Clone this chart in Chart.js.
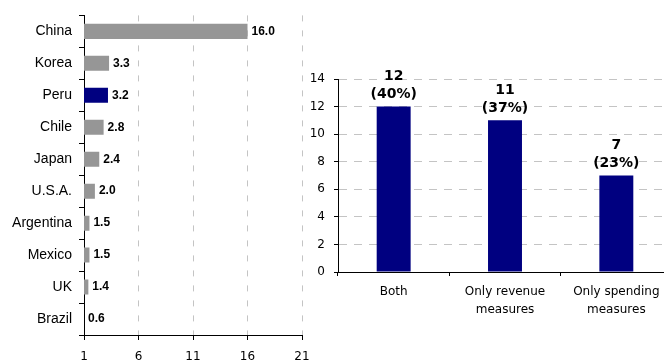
<!DOCTYPE html>
<html>
<head>
<meta charset="utf-8">
<script src="https://cdn.jsdelivr.net/npm/chart.js@4.4.1/dist/chart.umd.min.js"></script>
<style>
    html, body { margin: 0; padding: 0; background: #fff; overflow: hidden; }
    body { width: 664px; height: 363px; position: relative; }
    #leftWrap { position: absolute; left: 0; top: 0; width: 320px; height: 363px; }
    #rightWrap { position: absolute; left: 290px; top: 50px; width: 390px; height: 280px; }
</style>
</head>
<body>
<div id="leftWrap"><canvas id="leftChart"></canvas></div>
<div id="rightWrap"><canvas id="rightChart"></canvas></div>
<script>
// Left chart data
var countries = ['China', 'Korea', 'Peru', 'Chile', 'Japan', 'U.S.A.', 'Argentina', 'Mexico', 'UK', 'Brazil'];
var countryValues = [16.0, 3.3, 3.2, 2.8, 2.4, 2.0, 1.5, 1.5, 1.4, 0.6];
var countryTicks = [1, 6, 11, 16, 21];
var highlightCountry = 'Peru';

// Right chart data
var measureLabels = [['Both'], ['Only revenue', 'measures'], ['Only spending', 'measures']];
var measureCounts = [12, 11, 7];
var measureShares = [40, 37, 23];
var measureTicks = [0, 2, 4, 6, 8, 10, 12, 14];

Chart.defaults.font.family = 'DejaVu Sans';
Chart.defaults.color = '#000';
Chart.defaults.animation = false;

var gray = '#969696';
var navy = '#000080';

// draws value labels next to / above the bars
var valueLabels = {
    id: 'valueLabels',
    afterDatasetsDraw: function (chart, args, opts) {
        var ctx = chart.ctx;
        var meta = chart.getDatasetMeta(0);
        ctx.save();
        ctx.fillStyle = '#000';
        meta.data.forEach(function (bar, i) {
            if (opts.mode === 'right') {
                ctx.font = 'bold 12px "Liberation Sans"';
                ctx.textAlign = 'left';
                ctx.textBaseline = 'middle';
                var x = Math.max(bar.x, chart.chartArea.left) + 4;
                ctx.fillText(countryValues[i].toFixed(1), x, bar.y);
            } else {
                ctx.font = 'bold 14px "DejaVu Sans"';
                ctx.textAlign = 'center';
                ctx.textBaseline = 'middle';
                ctx.fillText(String(measureCounts[i]), bar.x, bar.y - 30);
                ctx.fillText('(' + measureShares[i] + '%)', bar.x, bar.y - 12);
            }
        });
        ctx.restore();
    }
};

new Chart(document.getElementById('leftChart'), {
    type: 'bar',
    data: {
        labels: countries,
        datasets: [{
            data: countryValues,
            backgroundColor: countries.map(function (c) { return c === highlightCountry ? navy : gray; }),
            barPercentage: 0.47,
            categoryPercentage: 1
        }]
    },
    options: {
        indexAxis: 'y',
        responsive: true,
        maintainAspectRatio: false,
        layout: { padding: { top: 15, right: 18, left: 0, bottom: 0 } },
        plugins: {
            legend: { display: false },
            tooltip: { enabled: false },
            valueLabels: { mode: 'right' }
        },
        scales: {
            x: {
                type: 'linear',
                min: countryTicks[0],
                max: countryTicks[countryTicks.length - 1],
                afterBuildTicks: function (scale) {
                    scale.ticks = countryTicks.map(function (v) { return { value: v }; });
                },
                afterFit: function (scale) { scale.height = 28; },
                grid: {
                    color: '#c4c4c4',
                    tickColor: '#000',
                    tickLength: 5,
                    tickBorderDash: []
                },
                border: { display: true, color: '#000', width: 1, dash: [6, 9] },
                ticks: { font: { size: 12 }, padding: 10, maxRotation: 0, autoSkip: false }
            },
            y: {
                afterFit: function (scale) { scale.width = 84; },
                grid: {
                    offset: true,
                    drawOnChartArea: false,
                    tickColor: '#000',
                    tickLength: 5
                },
                border: { display: true, color: '#000', width: 1 },
                ticks: { font: { family: 'Liberation Sans', size: 14 }, padding: 7 }
            }
        }
    },
    plugins: [valueLabels]
});

new Chart(document.getElementById('rightChart'), {
    type: 'bar',
    data: {
        labels: measureLabels,
        datasets: [{
            data: measureCounts,
            backgroundColor: navy,
            barPercentage: 0.305,
            categoryPercentage: 1
        }]
    },
    options: {
        responsive: true,
        maintainAspectRatio: false,
        layout: { padding: { top: 29, right: 8, left: 0, bottom: 0 } },
        plugins: {
            legend: { display: false },
            tooltip: { enabled: false },
            valueLabels: { mode: 'top' }
        },
        scales: {
            x: {
                afterFit: function (scale) { scale.height = 58; },
                grid: {
                    offset: true,
                    drawOnChartArea: false,
                    tickColor: '#000',
                    tickLength: 4
                },
                border: { display: true, color: '#000', width: 1 },
                ticks: { font: { size: 12, lineHeight: 1.5 }, padding: 7, maxRotation: 0, autoSkip: false }
            },
            y: {
                min: measureTicks[0],
                max: measureTicks[measureTicks.length - 1],
                afterBuildTicks: function (scale) {
                    scale.ticks = measureTicks.map(function (v) { return { value: v }; });
                },
                afterFit: function (scale) { scale.width = 48; },
                grid: {
                    color: '#c4c4c4',
                    tickColor: '#000',
                    tickLength: 4,
                    tickBorderDash: []
                },
                border: { display: true, color: '#000', width: 1, dash: [8, 7] },
                ticks: { font: { size: 12 }, padding: 9 }
            }
        }
    },
    plugins: [valueLabels]
});
</script>
</body>
</html>
